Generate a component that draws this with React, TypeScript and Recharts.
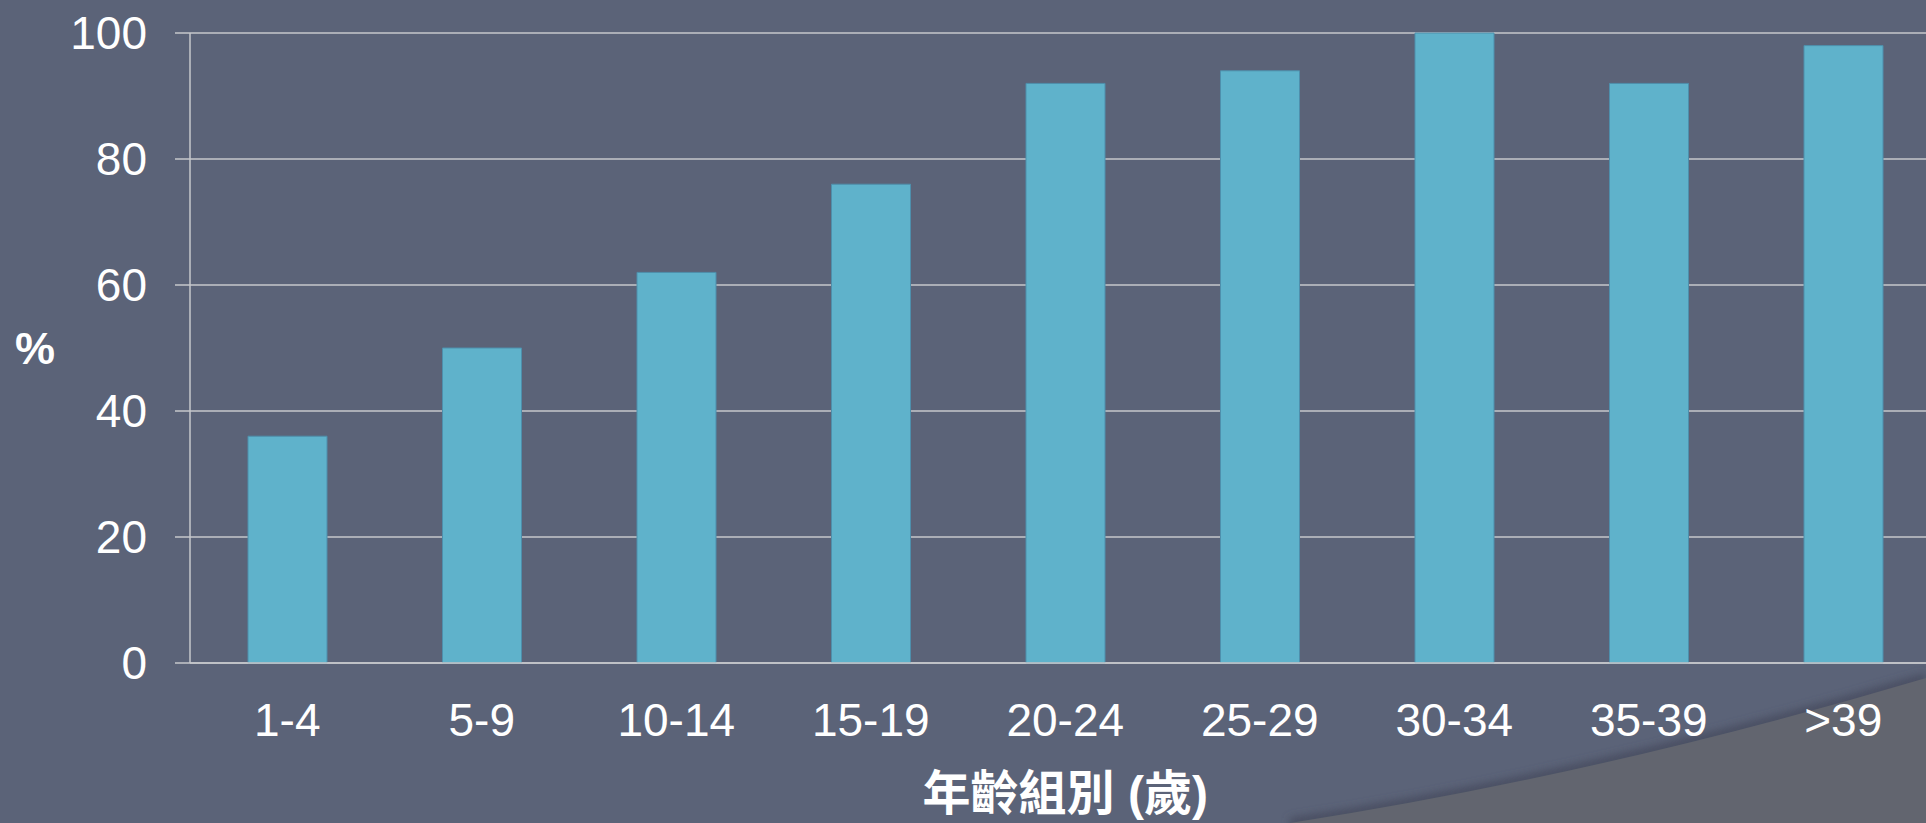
import { BarChart, Bar, XAxis, YAxis, CartesianGrid, Label } from 'recharts'

const ageGroups = ['1-4', '5-9', '10-14', '15-19', '20-24', '25-29', '30-34', '35-39', '>39']
const percents = [36, 50, 62, 76, 92, 94, 100, 92, 98]
const yTicks = [0, 20, 40, 60, 80, 100]

const data = ageGroups.map((g, i) => ({ group: g, value: percents[i] }))

const BG = '#5b6378'
const GRID = '#c6c7cb'
const FONT = '"Liberation Sans", Arial, "Noto Sans CJK TC", sans-serif'

export default function App() {
  return (
    <div style={{ position: 'fixed', left: 0, top: 0, width: 1926, height: 823, overflow: 'hidden', background: BG }}>
      {/* lower-right decorative swoosh */}
      <svg width={1926} height={823} style={{ position: 'absolute', left: 0, top: 0 }}>
        <defs>
          <filter id="soft" x="-10%" y="-50%" width="120%" height="200%">
            <feGaussianBlur stdDeviation="4" />
          </filter>
        </defs>
        <path d="M 1290 823 Q 1600 775 1926 678" fill="none" stroke="#464c5e" strokeWidth={9} filter="url(#soft)" />
        <path d="M 1290 823 Q 1600 775 1926 678 L 1926 823 Z" fill="#62656f" />
      </svg>
      <div style={{ position: 'absolute', left: 0, top: 0 }}>
        <BarChart
          width={1950}
          height={823}
          data={data}
          margin={{ top: 33, right: 9.5, left: 0, bottom: 0 }}
          barCategoryGap={58}
        >
          <CartesianGrid vertical={false} stroke={GRID} strokeWidth={1.5} />
          <XAxis
            dataKey="group"
            height={160}
            tickLine={false}
            tickSize={0}
            tickMargin={40}
            axisLine={{ stroke: GRID, strokeWidth: 1.5 }}
            tick={{ fill: '#ffffff', fontSize: 46, fontFamily: FONT }}
            interval={0}
          >
            <Label
              value="年齡組別 (歲)"
              position="insideBottom"
              offset={13}
              fill="#ffffff"
              fontSize={48}
              fontWeight="bold"
              fontFamily={FONT}
            />
          </XAxis>
          <YAxis
            width={190}
            domain={[0, 100]}
            ticks={yTicks}
            tickSize={15}
            tickMargin={28}
            tickLine={{ stroke: GRID, strokeWidth: 1.5 }}
            axisLine={{ stroke: GRID, strokeWidth: 1.5 }}
            tick={{ fill: '#ffffff', fontSize: 46, fontFamily: FONT }}
          >
            <Label
              value="%"
              position="insideLeft"
              offset={15}
              fill="#ffffff"
              fontSize={45}
              fontWeight="bold"
              fontFamily={FONT}
            />
          </YAxis>
          <Bar dataKey="value" fill="#5fb2cb" stroke="#4e8fac" strokeWidth={1} isAnimationActive={false} />
        </BarChart>
      </div>
    </div>
  )
}
